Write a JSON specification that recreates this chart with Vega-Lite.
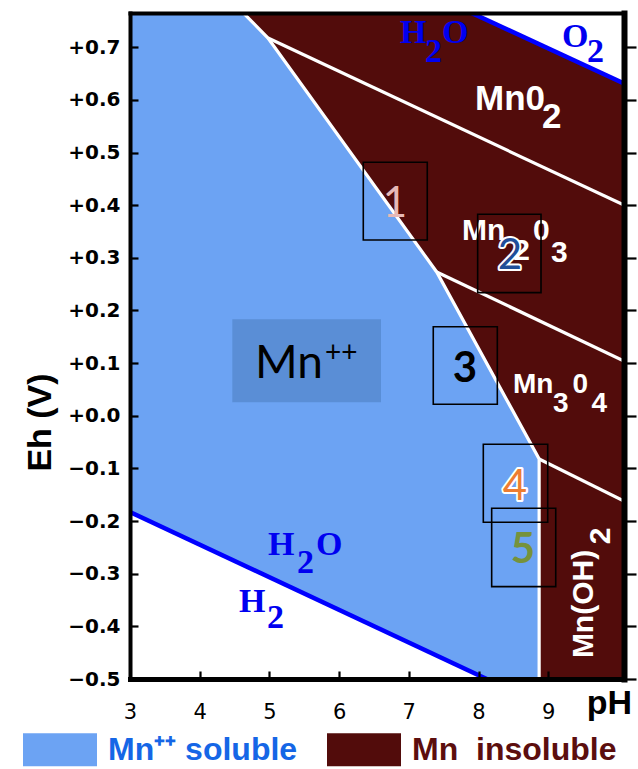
{
  "$schema": "https://vega.github.io/schema/vega-lite/v6.json",
  "width": 494,
  "height": 666,
  "autosize": {"type": "none"},
  "padding": {"left": 130, "top": 13, "right": 14, "bottom": 90},
  "background": "white",
  "config": {"view": {"stroke": null}},
  "resolve": {"axis": {"x": "independent", "y": "independent"}},
  "layer": [
    {
      "data": {"values": [
        {"phase": "Mn⁺⁺ soluble", "pH": 3.0, "hi": 0.765, "lo": -0.1828},
        {"phase": "Mn⁺⁺ soluble", "pH": 4.626, "hi": 0.765, "lo": -0.2838},
        {"phase": "Mn⁺⁺ soluble", "pH": 4.98, "hi": 0.7175, "lo": -0.3055},
        {"phase": "Mn⁺⁺ soluble", "pH": 7.4, "hi": 0.2731, "lo": -0.4555},
        {"phase": "Mn⁺⁺ soluble", "pH": 8.118, "hi": 0.1, "lo": -0.5},
        {"phase": "Mn⁺⁺ soluble", "pH": 8.87, "hi": -0.0821, "lo": -0.5},
        {"phase": "Mn insoluble", "pH": 4.626, "hi": 0.765, "lo": 0.765},
        {"phase": "Mn insoluble", "pH": 4.98, "hi": 0.765, "lo": 0.7175},
        {"phase": "Mn insoluble", "pH": 7.4, "hi": 0.765, "lo": 0.2731},
        {"phase": "Mn insoluble", "pH": 7.902, "hi": 0.765, "lo": 0.1518},
        {"phase": "Mn insoluble", "pH": 8.87, "hi": 0.7057, "lo": -0.0821},
        {"phase": "Mn insoluble", "pH": 8.8705, "hi": 0.7057, "lo": -0.5},
        {"phase": "Mn insoluble", "pH": 10.0875, "hi": 0.631, "lo": -0.5}
      ]},
      "mark": {"type": "area", "clip": true, "interpolate": "linear", "opacity": 1},
      "encoding": {
        "x": {"field": "pH", "type": "quantitative", "scale": {"domain": [3, 10.0875], "nice": false, "zero": false},
          "axis": {"orient": "bottom", "values": [3, 4, 5, 6, 7, 8, 9], "labelFlush": false, "labelFont": "DejaVu Sans", "labelFontSize": 21, "labelFontWeight": "normal", "labelColor": "black", "labelPadding": 30, "tickSize": -8, "tickWidth": 2.2, "tickColor": "black", "domainColor": "black", "domainWidth": 5, "domainCap": "square", "grid": false, "zindex": 2,
            "title": "pH", "titleFont": "Liberation Sans", "titleFontSize": 34, "titleFontWeight": "bold", "titleColor": "black", "titleX": 479, "titleY": 34, "titleAlign": "center", "titleBaseline": "alphabetic"}},
        "y": {"field": "hi", "type": "quantitative", "stack": null, "scale": {"domain": [-0.5, 0.765], "nice": false, "zero": false},
          "axis": {"orient": "left", "values": [-0.5, -0.4, -0.3, -0.2, -0.1, 0, 0.1, 0.2, 0.3, 0.4, 0.5, 0.6, 0.7], "labelExpr": "(datum.value < -0.0001 ? '−' : '+') + format(abs(datum.value), '.1f')", "labelFlush": false, "labelFont": "DejaVu Sans", "labelFontSize": 20, "labelFontWeight": "bold", "labelColor": "black", "labelPadding": 18, "tickSize": -8, "tickWidth": 2.2, "tickColor": "black", "domainColor": "black", "domainWidth": 4, "domainCap": "square", "grid": false, "zindex": 2,
            "title": "Eh (V)", "titleFont": "Liberation Sans", "titleFontSize": 34, "titleFontWeight": "bold", "titleColor": "black", "titleX": -90, "titleY": 409, "titleAngle": 270, "titleAlign": "center", "titleBaseline": "middle"}},
        "y2": {"field": "lo"},
        "color": {"field": "phase", "type": "nominal",
          "scale": {"domain": ["Mn⁺⁺ soluble", "Mn insoluble"], "range": ["#6ca3f3", "#520c0b"]},
          "legend": {"orient": "none", "legendX": -107, "legendY": 699.5, "direction": "horizontal", "title": null,
            "symbolType": "M-1,-0.446H1V0.446H-1Z", "symbolSize": 5476, "symbolStrokeWidth": 0, "symbolOpacity": 1,
            "labelFont": "Liberation Sans", "labelFontSize": 32, "labelFontWeight": "bold", "labelOffset": 11, "columnPadding": 29, "padding": 0, "labelLimit": 400,
            "labelExpr": "datum.label == 'Mn insoluble' ? 'Mn\u00a0\u00a0insoluble' : datum.label",
            "encode": {"labels": {"update": {"fill": {"signal": "datum.value == 'Mn insoluble' ? '#5c0e0e' : '#1566e6'"}}}}}}
      }
    },
    {
      "data": {"values": [
        {"pH0": 4.468, "pH1": 6.601, "e0": 0.1832, "e1": 0.0256}
      ]},
      "mark": {"type": "rect", "color": "#5a8ed6"},
      "encoding": {
        "x": {"field": "pH0", "type": "quantitative", "axis": null},
        "x2": {"field": "pH1"},
        "y": {"field": "e0", "type": "quantitative", "axis": null},
        "y2": {"field": "e1"}
      }
    },
    {
      "data": {"values": [
        {"seg": "b1", "o": 1, "pH": 4.626, "Eh": 0.765},
        {"seg": "b1", "o": 2, "pH": 4.98, "Eh": 0.7175},
        {"seg": "b1", "o": 3, "pH": 7.4, "Eh": 0.2731},
        {"seg": "b1", "o": 4, "pH": 8.87, "Eh": -0.0821},
        {"seg": "b1", "o": 5, "pH": 8.87, "Eh": -0.5},
        {"seg": "b2", "o": 1, "pH": 4.98, "Eh": 0.7175},
        {"seg": "b2", "o": 2, "pH": 10.0875, "Eh": 0.4001},
        {"seg": "b3", "o": 1, "pH": 7.4, "Eh": 0.2731},
        {"seg": "b3", "o": 2, "pH": 10.0875, "Eh": 0.104},
        {"seg": "b4", "o": 1, "pH": 8.87, "Eh": -0.0821},
        {"seg": "b4", "o": 2, "pH": 10.0875, "Eh": -0.1618}
      ]},
      "mark": {"type": "line", "color": "white", "strokeWidth": 3.2, "clip": true, "strokeJoin": "miter"},
      "encoding": {
        "x": {"field": "pH", "type": "quantitative", "axis": null},
        "y": {"field": "Eh", "type": "quantitative", "axis": null},
        "detail": {"field": "seg"},
        "order": {"field": "o", "type": "quantitative"}
      }
    },
    {
      "data": {"values": [
        {"seg": "o2", "o": 1, "pH": 7.902, "Eh": 0.765},
        {"seg": "o2", "o": 2, "pH": 10.0875, "Eh": 0.631},
        {"seg": "h2", "o": 1, "pH": 3.0, "Eh": -0.1828},
        {"seg": "h2", "o": 2, "pH": 8.118, "Eh": -0.5}
      ]},
      "mark": {"type": "line", "color": "#0000ff", "strokeWidth": 4.5, "clip": true},
      "encoding": {
        "x": {"field": "pH", "type": "quantitative",
          "axis": {"orient": "top", "labels": false, "ticks": false, "domainColor": "black", "domainWidth": 4, "domainCap": "square", "grid": false, "title": null, "zindex": 2}},
        "y": {"field": "Eh", "type": "quantitative",
          "axis": {"orient": "right", "values": [-0.5, -0.4, -0.3, -0.2, -0.1, 0, 0.1, 0.2, 0.3, 0.4, 0.5, 0.6, 0.7], "labels": false, "tickSize": 12, "tickWidth": 2.2, "tickColor": "black", "domainColor": "black", "domainWidth": 6, "domainCap": "square", "grid": false, "title": null, "zindex": 2}},
        "detail": {"field": "seg"},
        "order": {"field": "o", "type": "quantitative"}
      }
    },
    {
      "data": {"values": [
        {"t": "H", "pH": 6.874, "Eh": 0.708},
        {"t": "2", "pH": 7.232, "Eh": 0.6719},
        {"t": "O", "pH": 7.476, "Eh": 0.708},
        {"t": "O", "pH": 9.198, "Eh": 0.7004},
        {"t": "2", "pH": 9.557, "Eh": 0.6719},
        {"t": "H", "pH": 4.98, "Eh": -0.2644},
        {"t": "2", "pH": 5.396, "Eh": -0.2986},
        {"t": "O", "pH": 5.669, "Eh": -0.2644},
        {"t": "H", "pH": 4.564, "Eh": -0.3728},
        {"t": "2", "pH": 4.966, "Eh": -0.4032}
      ]},
      "mark": {"type": "text", "font": "Liberation Serif", "fontSize": 34, "fontWeight": "bold", "color": "#0000f0", "align": "left", "baseline": "alphabetic"},
      "encoding": {
        "x": {"field": "pH", "type": "quantitative", "axis": null},
        "y": {"field": "Eh", "type": "quantitative", "axis": null},
        "text": {"field": "t"}
      }
    },
    {
      "data": {"values": [
        {"t": "Mn0", "pH": 7.95, "Eh": 0.5808},
        {"t": "2", "pH": 8.91, "Eh": 0.5466}
      ]},
      "mark": {"type": "text", "font": "Liberation Sans", "fontSize": 35, "fontWeight": "bold", "color": "white", "align": "left", "baseline": "alphabetic"},
      "encoding": {
        "x": {"field": "pH", "type": "quantitative", "axis": null},
        "y": {"field": "Eh", "type": "quantitative", "axis": null},
        "text": {"field": "t"}
      }
    },
    {
      "data": {"values": [
        {"t": "Mn", "pH": 7.763, "Eh": 0.3339},
        {"t": "2", "pH": 8.5, "Eh": 0.2959},
        {"t": "0", "pH": 8.782, "Eh": 0.3339},
        {"t": "3", "pH": 9.04, "Eh": 0.2921}
      ]},
      "mark": {"type": "text", "font": "Liberation Sans", "fontSize": 30, "fontWeight": "bold", "color": "white", "align": "left", "baseline": "alphabetic"},
      "encoding": {
        "x": {"field": "pH", "type": "quantitative", "axis": null},
        "y": {"field": "Eh", "type": "quantitative", "axis": null},
        "text": {"field": "t"}
      }
    },
    {
      "data": {"values": [
        {"t": "Mn", "pH": 8.495, "Eh": 0.0433},
        {"t": "3", "pH": 9.07, "Eh": 0.0072},
        {"t": "0", "pH": 9.35, "Eh": 0.0433},
        {"t": "4", "pH": 9.62, "Eh": 0.0072}
      ]},
      "mark": {"type": "text", "font": "Liberation Sans", "fontSize": 28, "fontWeight": "bold", "color": "white", "align": "left", "baseline": "alphabetic"},
      "encoding": {
        "x": {"field": "pH", "type": "quantitative", "axis": null},
        "y": {"field": "Eh", "type": "quantitative", "axis": null},
        "text": {"field": "t"}
      }
    },
    {
      "data": {"values": [
        {"t": "Mn(OH)", "pH": 9.514, "Eh": -0.3575},
        {"t": "2", "pH": 9.757, "Eh": -0.2284}
      ]},
      "mark": {"type": "text", "font": "Liberation Sans", "fontSize": 30, "fontWeight": "bold", "color": "white", "align": "center", "baseline": "middle", "angle": 270},
      "encoding": {
        "x": {"field": "pH", "type": "quantitative", "axis": null},
        "y": {"field": "Eh", "type": "quantitative", "axis": null},
        "text": {"field": "t"}
      }
    },
    {
      "data": {"values": [
        {"t": "Mn", "pH": 4.793, "Eh": 0.0717}
      ]},
      "mark": {"type": "text", "font": "Lato", "fontSize": 46, "color": "black", "align": "left", "baseline": "alphabetic"},
      "encoding": {
        "x": {"field": "pH", "type": "quantitative", "axis": null},
        "y": {"field": "Eh", "type": "quantitative", "axis": null},
        "text": {"field": "t"}
      }
    },
    {
      "data": {"values": [
        {"t": "++", "pH": 5.798, "Eh": 0.1021}
      ]},
      "mark": {"type": "text", "font": "Lato", "fontSize": 28, "color": "black", "align": "left", "baseline": "alphabetic"},
      "encoding": {
        "x": {"field": "pH", "type": "quantitative", "axis": null},
        "y": {"field": "Eh", "type": "quantitative", "axis": null},
        "text": {"field": "t"}
      }
    },
    {
      "data": {"values": [
        {"box": "1", "pH0": 6.347, "pH1": 7.265, "e0": 0.4814, "e1": 0.3339},
        {"box": "2", "pH0": 7.988, "pH1": 8.897, "e0": 0.3827, "e1": 0.2338},
        {"box": "3", "pH0": 7.351, "pH1": 8.27, "e0": 0.1692, "e1": 0.0218},
        {"box": "4", "pH0": 8.069, "pH1": 8.993, "e0": -0.0542, "e1": -0.2023},
        {"box": "5", "pH0": 8.189, "pH1": 9.108, "e0": -0.1757, "e1": -0.3246}
      ]},
      "mark": {"type": "rect", "filled": false, "stroke": "black", "strokeWidth": 1.6},
      "encoding": {
        "x": {"field": "pH0", "type": "quantitative", "axis": null},
        "x2": {"field": "pH1"},
        "y": {"field": "e0", "type": "quantitative", "axis": null},
        "y2": {"field": "e1"}
      }
    },
    {
      "data": {"values": [
        {"n": "2", "pH": 8.452, "Eh": 0.2788},
        {"n": "4", "pH": 8.524, "Eh": -0.16}
      ]},
      "mark": {"type": "text", "font": "Lato", "fontSize": 42, "color": "white", "stroke": "white", "strokeWidth": 4, "strokeJoin": "round", "align": "center", "baseline": "alphabetic"},
      "encoding": {
        "x": {"field": "pH", "type": "quantitative", "axis": null},
        "y": {"field": "Eh", "type": "quantitative", "axis": null},
        "text": {"field": "n"}
      }
    },
    {
      "data": {"values": [
        {"n": "1", "pH": 6.802, "Eh": 0.3775},
        {"n": "2", "pH": 8.452, "Eh": 0.2788},
        {"n": "4", "pH": 8.524, "Eh": -0.16}
      ]},
      "mark": {"type": "text", "font": "Lato", "fontSize": 42, "align": "center", "baseline": "alphabetic"},
      "encoding": {
        "x": {"field": "pH", "type": "quantitative", "axis": null},
        "y": {"field": "Eh", "type": "quantitative", "axis": null},
        "text": {"field": "n"},
        "fill": {"field": "n", "type": "nominal", "scale": {"domain": ["1", "2", "3", "4", "5"], "range": ["#e6b9b8", "#1f4e99", "#000000", "#ed7d31", "#76923c"]}, "legend": null}
      }
    },
    {
      "data": {"values": [
        {"n": "3", "pH": 7.806, "Eh": 0.0641},
        {"n": "5", "pH": 8.638, "Eh": -0.2796}
      ]},
      "mark": {"type": "text", "font": "Lato", "fontSize": 42, "fontWeight": "bold", "align": "center", "baseline": "alphabetic"},
      "encoding": {
        "x": {"field": "pH", "type": "quantitative", "axis": null},
        "y": {"field": "Eh", "type": "quantitative", "axis": null},
        "text": {"field": "n"},
        "fill": {"field": "n", "type": "nominal", "scale": {"domain": ["1", "2", "3", "4", "5"], "range": ["#e6b9b8", "#1f4e99", "#000000", "#ed7d31", "#76923c"]}, "legend": null}
      }
    }
  ]
}
